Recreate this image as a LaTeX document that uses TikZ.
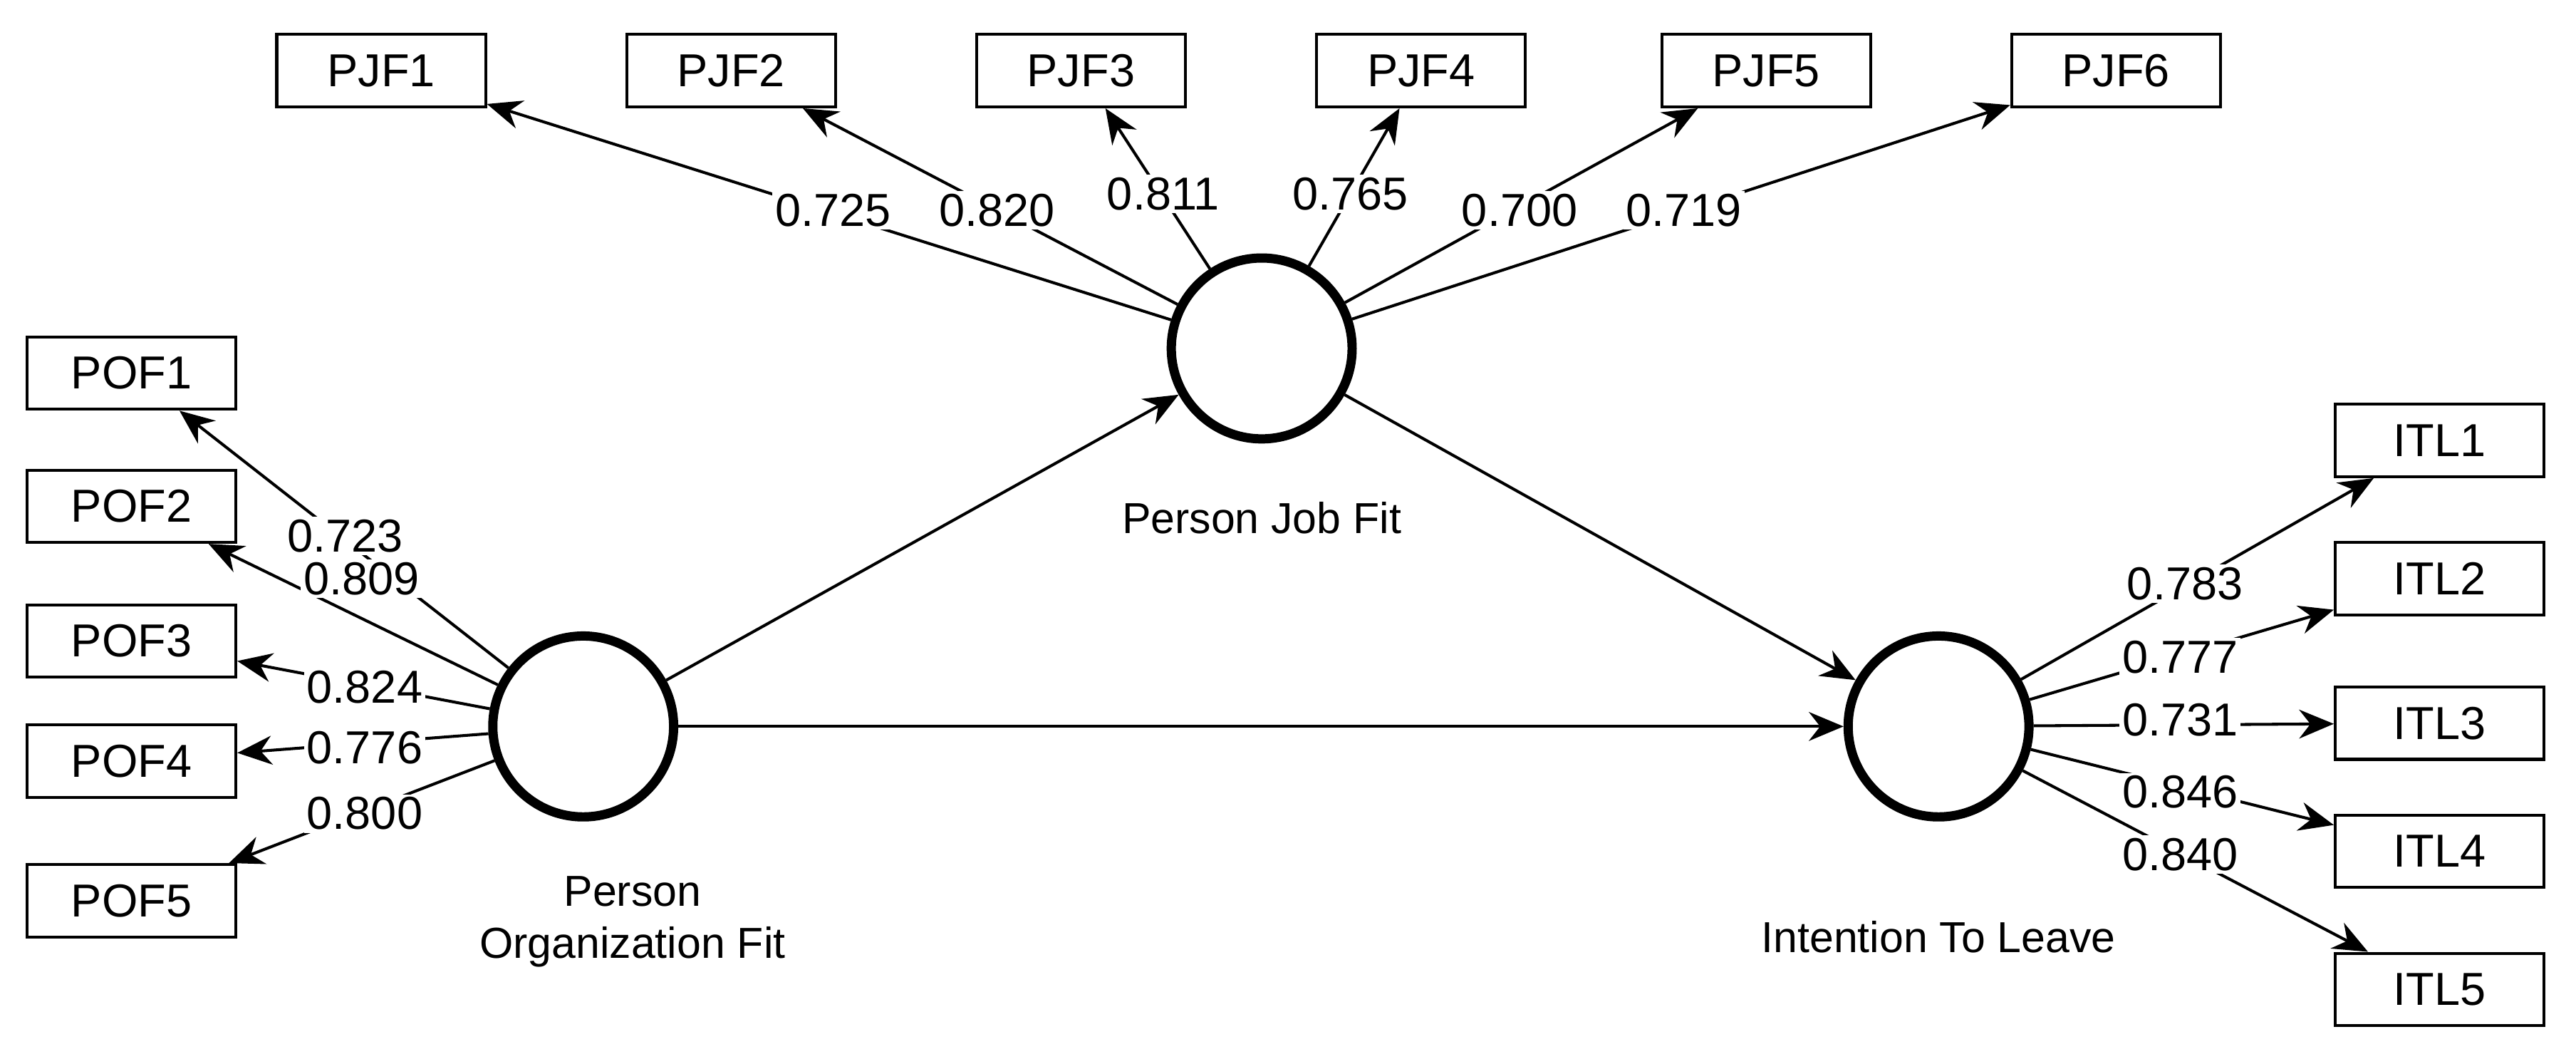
\documentclass[tikz,border=0pt]{standalone}
\usepackage{fontspec}
\setmainfont{Liberation Sans}
\usetikzlibrary{arrows.meta}
\begin{document}
\begin{tikzpicture}[x=0.01cm,y=-0.01cm,
 box/.style={draw,line width=0.5pt,minimum width=1.27cm,minimum height=0.44cm,font=\fontsize{8}{9}\selectfont,inner sep=1pt},
 lv/.style={draw,circle,line width=1.6pt,minimum size=1.1cm,inner sep=0pt},
 arr/.style={-{Stealth[length=6pt,width=5pt]},line width=0.5pt},
 lab/.style={fill=white,inner sep=0.5pt,font=\fontsize{8}{9}\selectfont},
 lvname/.style={font=\fontsize{7.5}{9}\selectfont,align=center}]
\useasboundingbox (0,0) rectangle (1568,647);
\node[lv] (pjf) at (768,212) {};
\node[lv] (pof) at (355,442) {};
\node[lv] (itl) at (1180,442) {};
\node[lvname] (pjft) at (768,315) {Person Job Fit};
\node[lvname] (poft) at (385,561) {Person\\Organization Fit};
\node[lvname] (itlt) at (1180,570) {Intention To Leave};
\foreach \n/\x in {1/232,2/445,3/658,4/865,5/1075,6/1288}
  \node[box] (pjf\n) at (\x,43) {PJF\n};
\foreach \n/\y in {1/227,2/308,3/390,4/463,5/548}
  \node[box] (pof\n) at (80,\y) {POF\n};
\foreach \n/\y in {1/268,2/352,3/440,4/518,5/602}
  \node[box] (itl\n) at (1485,\y) {ITL\n};
\foreach \n in {1,...,6} \draw[arr] (pjf) -- (pjf\n);
\foreach \n in {1,...,5} \draw[arr] (pof) -- (pof\n);
\foreach \n in {1,...,5} \draw[arr] (itl) -- (itl\n);
\draw[arr] (pof) -- (pjf);
\draw[arr] (pof) -- (itl);
\draw[arr] (pjf) -- (itl);
\node[lab] (l1) at (507,128) {0.725};
\node[lab] (l2) at (607,128) {0.820};
\node[lab] (l3) at (708,118) {0.811};
\node[lab] (l4) at (822,118) {0.765};
\node[lab] (l5) at (925,128) {0.700};
\node[lab] (l6) at (1025,128) {0.719};
\node[lab] (m1) at (210,326) {0.723};
\node[lab] (m2) at (220,352) {0.809};
\node[lab] (m3) at (222,418) {0.824};
\node[lab] (m4) at (222,455) {0.776};
\node[lab] (m5) at (222,495) {0.800};
\node[lab] (n1) at (1330,355) {0.783};
\node[lab] (n2) at (1327,400) {0.777};
\node[lab] (n3) at (1327,438) {0.731};
\node[lab] (n4) at (1327,482) {0.846};
\node[lab] (n5) at (1327,520) {0.840};
\end{tikzpicture}
\end{document}
